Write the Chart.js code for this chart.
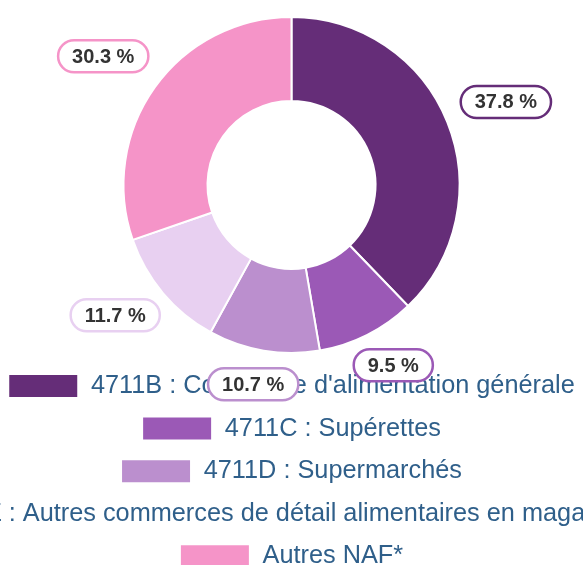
<!DOCTYPE html>
<html>
<head>
<meta charset="utf-8">
<script src="https://cdn.jsdelivr.net/npm/chart.js@4.4.1/dist/chart.umd.min.js"></script>
<style>
  html, body { margin: 0; padding: 0; background: #fff; overflow: hidden; }
  #chartBox { width: 583px; height: 579px; position: relative; }
</style>
</head>
<body>
<div id="chartBox"><canvas id="nafChart"></canvas></div>
<script>
// Répartition des établissements par code NAF (%)
const categories = [
    '4711B : Commerce d\'alimentation générale',
    '4711C : Supérettes',
    '4711D : Supermarchés',
    '4729Z : Autres commerces de détail alimentaires en magasin spécialisé',
    'Autres NAF*'
];
const shares = [37.8, 9.5, 10.7, 11.7, 30.3];
const sliceColors = ['#652d78', '#9b59b6', '#bb8fce', '#e8d0f1', '#f594c8'];

// Draw the "xx.x %" pills outside each slice
const percentLabels = {
    id: 'percentLabels',
    afterDraw(chart) {
        const ctx = chart.ctx;
        const meta = chart.getDatasetMeta(0);
        ctx.save();
        ctx.font = 'bold 20px Arial';
        ctx.textAlign = 'center';
        ctx.textBaseline = 'middle';
        meta.data.forEach((arc, i) => {
            const p = arc.getProps(['x', 'y', 'startAngle', 'endAngle', 'outerRadius'], true);
            const mid = (p.startAngle + p.endAngle) / 2;
            const cos = Math.cos(mid), sin = Math.sin(mid);
            const text = shares[i].toFixed(1) + ' %';
            const w = ctx.measureText(text).width + 28;
            const h = 32;
            const r0 = p.outerRadius + 18;
            // upper-half labels sit a bit higher
            const cx = p.x + cos * r0 + cos * w / 2;
            const cy = p.y + sin * r0 + sin * h / 2 + Math.min(0, sin) * 20;
            const left = cx - w / 2, top = cy - h / 2, rad = h / 2;

            ctx.beginPath();
            ctx.moveTo(left + rad, top);
            ctx.lineTo(left + w - rad, top);
            ctx.arc(left + w - rad, top + rad, rad, -Math.PI / 2, Math.PI / 2);
            ctx.lineTo(left + rad, top + h);
            ctx.arc(left + rad, top + rad, rad, Math.PI / 2, Math.PI * 1.5);
            ctx.closePath();
            ctx.fillStyle = '#fff';
            ctx.fill();
            ctx.lineWidth = 2.5;
            ctx.strokeStyle = sliceColors[i];
            ctx.stroke();

            ctx.fillStyle = '#333';
            ctx.fillText(text, cx, cy + 1);
        });
        ctx.restore();
    }
};

new Chart(document.getElementById('nafChart'), {
    type: 'doughnut',
    data: {
        labels: categories,
        datasets: [{
            data: shares,
            backgroundColor: sliceColors,
            borderColor: '#fff',
            borderWidth: 2
        }]
    },
    options: {
        responsive: true,
        maintainAspectRatio: false,
        animation: false,
        radius: 168,
        cutout: '50%',
        layout: {
            padding: { top: 14, left: 0, right: 0, bottom: 0 }
        },
        plugins: {
            tooltip: { enabled: false },
            legend: {
                position: 'bottom',
                labels: {
                    boxWidth: 70,
                    boxHeight: 24,
                    padding: 17.3,
                    color: '#2f5f8a',
                    font: { family: 'Arial', size: 25.3 }
                }
            }
        }
    },
    plugins: [percentLabels]
});
</script>
</body>
</html>
